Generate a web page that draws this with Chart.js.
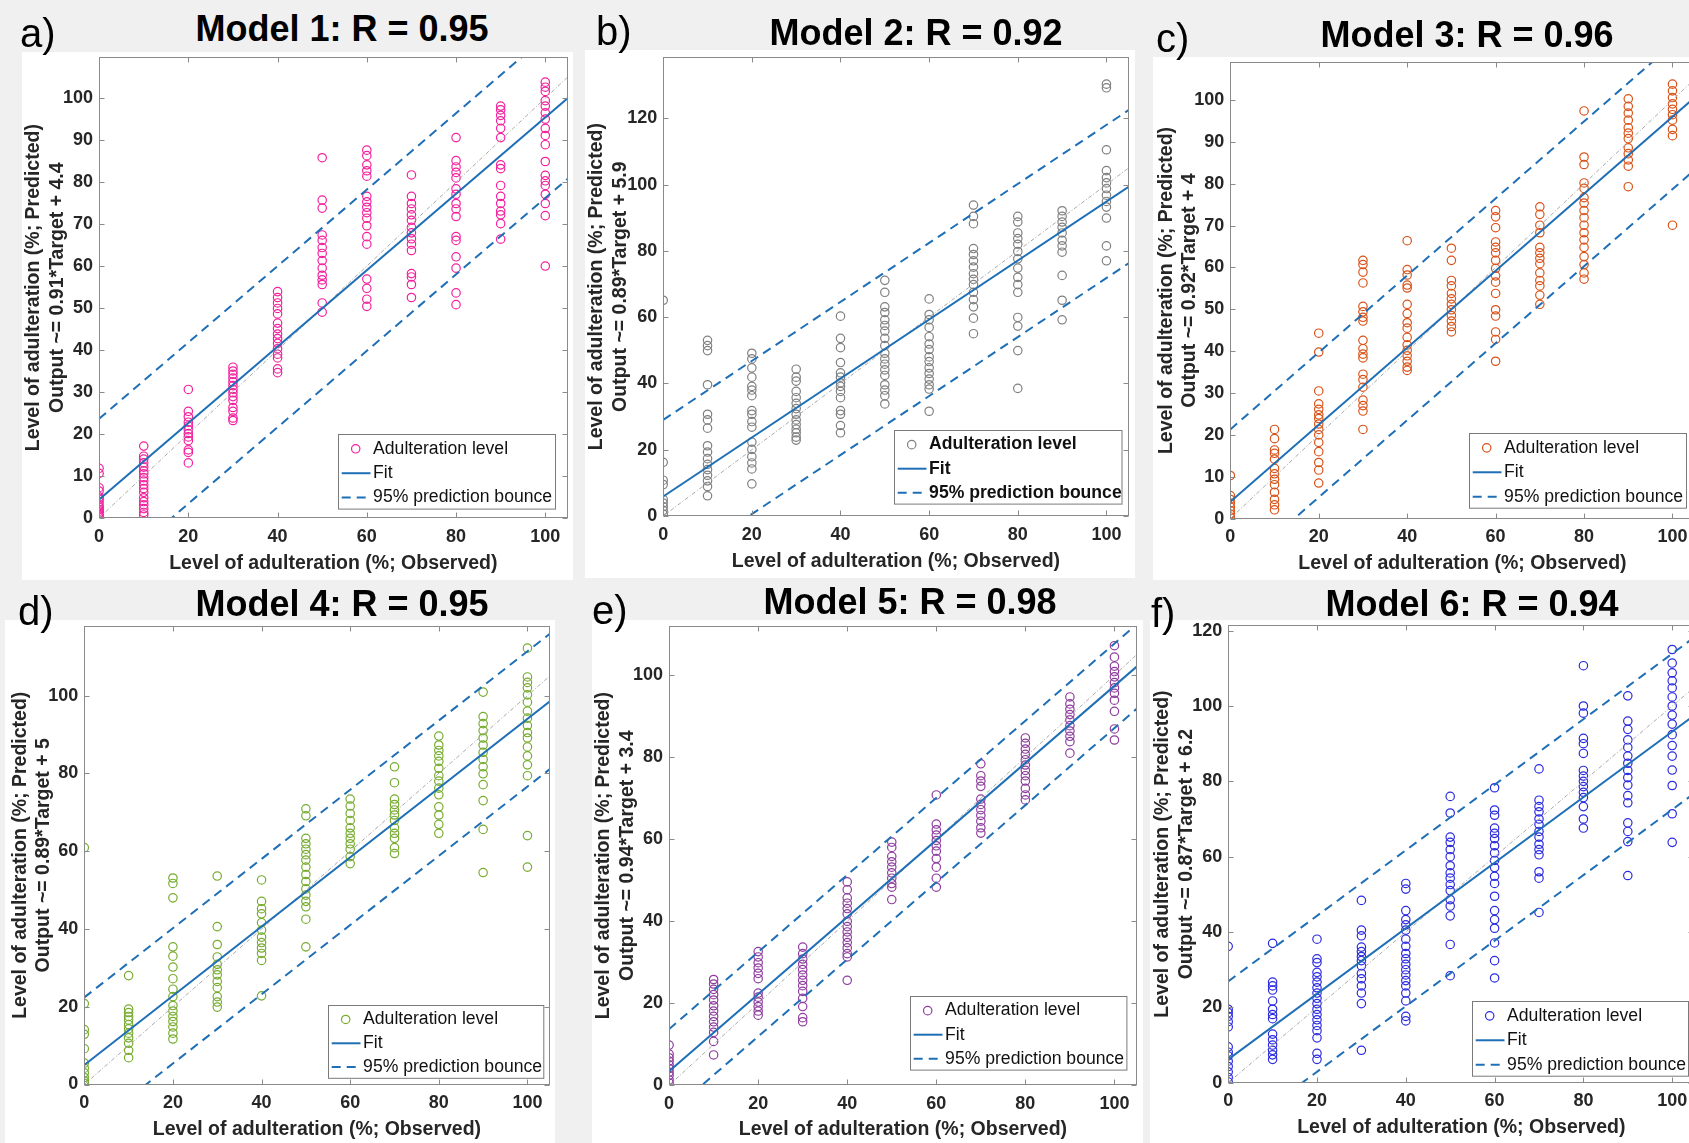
<!DOCTYPE html>
<html><head><meta charset="utf-8">
<script src="https://cdn.jsdelivr.net/npm/chart.js@4.4.1/dist/chart.umd.min.js"></script>
<style>
html,body{margin:0;padding:0;width:1689px;height:1143px;overflow:hidden;background:#f0f0f0;font-family:"Liberation Sans",Arial,sans-serif}
.panel{position:absolute;background:#fff}
.panel canvas{display:block}
.title{position:absolute;font-weight:bold;font-size:36px;line-height:1;white-space:nowrap;text-align:center;width:600px;color:#000;margin-top:-1px}
.tag{position:absolute;font-size:40px;line-height:1;color:#000;white-space:nowrap}
</style></head><body>
<script>
// ---------- data ----------
const xLevels = [0,10,20,30,40,50,60,70,80,90,100];
const xTickValues = [0,20,40,60,80,100];
const panelTags = ['a)','b)','c)','d)','e)','f)'];
const modelTitles = ['Model 1: R = 0.95','Model 2: R = 0.92','Model 3: R = 0.96','Model 4: R = 0.95','Model 5: R = 0.98','Model 6: R = 0.94'];
const fitSlopes = [0.91,0.89,0.92,0.89,0.94,0.87];
const fitIntercepts = [4.4,5.9,4,5,3.4,6.2];
const boundHalfWidths = [19.2,23.1,17.3,17.4,10.3,20.7];
const yTickSteps = [10,20,10,20,20,20];
const yAxisMax = [109.7,138.4,109.0,117.9,112.0,121.4];
const xAxisMax = 105;
const seriesLabel = 'Adulteration level';
const fitLabel = 'Fit';
const boundLabel = '95% prediction bounce';
const xTitle = 'Level of adulteration (%; Observed)';
const yTitleLine1 = 'Level of adulteration (%; Predicted)';

const model1Output = [
 [11.8,10.6,7.2,6.4,5.0,4.5,3.8,3.0,2.5,2.0,1.6,1.2,0.8,0.4],
 [17.1,14.7,14.0,13.1,12.1,11.2,10.5,9.6,8.8,7.9,7.0,6.1,4.8,3.9,3.1,2.2,1.3,0.7],
 [30.6,25.4,24.1,22.8,21.9,21.0,20.1,19.3,18.4,16.2,15.6,13.1],
 [35.9,35.0,34.2,33.3,32.4,31.5,30.6,29.8,28.9,28.0,26.3,25.4,23.8,23.2],
 [53.9,52.5,51.2,49.9,48.6,46.4,45.1,43.8,42.7,41.6,40.3,39.0,38.1,35.5,34.6],
 [85.8,75.7,73.8,67.4,66.1,64.4,63.0,61.3,59.5,57.8,56.7,55.6,51.2,49.0],
 [87.6,86.3,84.1,82.7,81.4,76.6,75.3,74.0,72.7,71.4,69.6,67.0,65.2,56.9,54.7,52.1,50.4],
 [81.7,76.6,74.9,73.6,72.2,70.9,69.2,67.9,66.5,65.2,63.7,58.2,57.4,55.6,52.5],
 [90.6,85.1,83.6,82.3,81.0,78.4,77.1,74.9,73.6,71.8,67.0,66.1,62.2,59.5,53.6,50.8],
 [98.1,97.2,95.9,94.6,92.8,90.6,84.1,83.2,79.2,76.6,74.9,73.1,72.2,70.1,66.4],
 [103.8,102.6,101.6,99.4,98.1,96.5,95.0,92.8,91.1,88.9,84.9,81.6,80.3,79.2,77.1,74.9,72.0,60.0]
];
const model2Output = [
 [65.1,16.2,10.8,9.5,5.0,3.9,2.8,1.7,0.6],
 [53.0,51.4,49.9,39.6,30.7,29.0,26.5,21.2,19.3,17.3,15.6,14.0,12.3,10.6,8.9,6.1],
 [49.1,47.4,44.7,41.9,39.1,38.0,36.3,31.8,30.7,28.5,26.8,22.3,20.1,17.9,16.0,14.2,9.7],
 [44.3,41.9,40.7,37.6,35.7,34.0,32.4,30.7,29.0,27.6,26.2,25.1,23.8,22.9],
 [60.3,53.6,50.8,46.3,43.2,41.9,40.2,39.1,37.6,35.7,31.8,30.7,27.3,25.1],
 [71.1,67.5,63.1,61.4,59.2,57.5,55.8,53.6,51.4,49.1,47.4,45.8,44.1,42.4,39.6,38.0,36.3,33.8],
 [65.5,60.8,59.2,56.9,54.1,51.9,50.2,48.0,46.6,44.7,43.0,41.3,39.6,38.3,31.6],
 [93.8,90.4,88.2,80.7,78.9,77.0,75.1,73.1,71.4,69.8,67.5,65.3,63.1,59.7,55.0],
 [90.4,88.7,85.4,83.7,82.0,79.8,77.6,74.8,72.0,69.8,67.5,59.9,57.3,49.9,38.5],
 [92.1,90.4,88.7,87.1,85.4,83.2,81.5,79.6,72.6,65.1,59.2],
 [130.3,129.2,110.5,104.2,102.1,100.5,98.8,96.8,94.9,93.2,89.9,81.5,77.0]
];
const model3Output = [
 [10.3,5.5,4.6,3.7,2.8,1.9,1.1,0.4],
 [21.3,19.1,16.4,15.6,14.2,12.0,10.7,9.4,8.1,6.3,4.6,3.3,2.1],
 [44.3,39.8,30.5,27.4,26.1,24.8,23.9,22.6,21.3,20.0,18.2,16.0,13.4,11.6,8.5],
 [61.7,60.7,58.9,56.3,50.7,49.4,48.1,47.2,42.6,40.6,39.3,38.4,34.5,33.2,31.4,28.3,27.0,25.7,21.3],
 [66.4,59.5,58.2,55.8,55.1,51.2,49.0,46.8,45.5,43.3,41.5,40.2,38.9,37.6,36.2,35.4],
 [64.6,61.7,56.9,55.6,53.8,52.5,51.2,49.9,48.5,47.2,45.9,44.6],
 [73.6,72.1,69.5,66.1,64.8,63.5,61.7,59.8,58.0,56.5,53.8,49.9,48.4,44.6,42.8,37.6],
 [74.5,72.7,70.1,68.3,64.8,63.5,62.2,60.9,58.7,56.9,55.6,53.4,51.2],
 [97.4,86.4,84.6,80.2,78.9,76.7,75.4,73.6,71.9,70.1,68.3,66.6,64.8,62.6,60.7,58.7,57.2],
 [100.3,98.5,96.9,95.2,93.4,92.1,90.8,88.6,87.2,85.7,84.2,79.3],
 [103.8,102.2,100.6,99.1,97.8,96.5,95.2,93.0,91.5,70.1]
];
const model4Output = [
 [60.9,20.8,14.1,12.9,9.2,5.5,4.2,3.0,1.8,0.9,0.3],
 [28.0,19.4,18.5,17.5,16.6,15.4,14.3,13.2,12.0,10.6,8.8,6.9],
 [53.1,51.7,48.0,35.4,33.0,30.2,27.2,24.5,22.6,20.3,18.9,17.5,16.2,14.8,13.2,11.7],
 [53.6,40.6,36.0,32.8,30.9,29.5,28.2,26.5,24.9,22.6,21.2,19.9],
 [52.6,47.1,45.2,43.9,41.6,39.7,37.9,36.5,35.1,33.7,31.9,22.8],
 [70.9,69.1,63.3,61.9,60.5,59.1,57.7,55.9,54.0,52.2,50.3,48.7,47.1,45.7,42.5,35.4],
 [73.4,71.6,69.7,67.9,66.0,64.6,63.3,61.9,60.5,58.6,56.8],
 [81.7,77.6,73.4,72.0,70.6,69.3,67.9,66.0,64.6,63.3,60.9,59.4],
 [89.6,87.3,85.9,84.5,83.1,81.3,79.4,78.0,76.2,74.5,71.4,69.3,66.9,64.6],
 [100.9,94.6,92.8,91.0,89.1,87.3,85.4,83.6,81.7,79.9,77.1,73.0,65.6,54.5],
 [112.2,104.8,103.4,102.0,100.2,98.3,96.0,94.2,92.3,90.5,89.1,86.8,84.5,82.2,79.4,64.0,55.9]
];
const model5Output = [
 [9.8,7.6,6.7,5.9,5.0,4.1,3.2,2.4,1.3,0.6],
 [25.8,24.7,23.4,22.1,20.8,19.4,18.1,16.8,15.5,14.2,12.9,10.7,7.4],
 [32.6,31.3,29.9,28.6,27.3,26.0,22.5,21.5,20.3,19.2,18.1,17.1],
 [33.7,32.1,30.8,29.5,28.2,26.9,25.6,24.3,22.9,21.2,19.2,16.5,15.5],
 [49.6,47.7,45.7,44.4,43.1,41.8,40.0,38.7,37.4,36.1,34.8,33.5,32.1,31.3,25.6],
 [59.3,58.0,55.8,54.5,53.2,51.8,50.5,49.2,48.3,45.3],
 [70.8,63.7,62.3,61.0,59.7,58.4,57.1,55.3,53.2,50.5,48.3],
 [78.4,75.5,74.2,72.9,69.8,68.5,67.2,65.8,64.4,62.8,61.5],
 [84.7,83.4,82.0,80.7,79.4,78.1,76.8,75.5,74.2,72.4,70.8,69.6],
 [94.7,93.0,91.7,90.4,89.1,87.7,86.4,85.1,83.8,81.0],
 [107.2,104.4,102.2,100.9,99.6,98.2,96.9,95.6,93.9,91.2,86.9,84.2]
];
const model6Output = [
 [36.2,19.5,18.6,17.6,16.2,14.8,9.5,8.1,7.1,5.7,4.3,2.9,1.4,0.2],
 [37.0,26.7,25.7,24.6,21.7,19.5,18.1,17.0,12.9,11.4,10.0,8.6,7.4,6.2],
 [38.1,32.9,31.9,29.3,28.1,26.7,25.2,23.8,22.4,21.0,19.5,18.1,16.7,15.2,13.8,11.9,7.8,6.2],
 [48.4,40.5,39.0,36.0,34.8,33.5,32.4,31.0,29.0,27.6,25.7,23.8,21.0,8.6],
 [52.9,51.4,45.7,43.3,41.9,40.5,38.1,36.2,34.3,32.9,31.4,30.0,28.6,27.1,25.7,23.8,21.7,17.6,16.4],
 [76.0,71.6,65.2,63.8,61.9,60.0,57.6,55.7,54.3,52.6,51.0,48.6,46.9,44.3,36.7,28.4],
 [78.3,72.4,71.0,67.6,66.2,64.8,62.9,61.0,59.0,57.1,54.8,52.9,49.5,45.7,43.3,41.0,37.1,32.4,27.8],
 [83.3,75.0,73.3,71.9,70.0,68.6,66.7,65.2,63.3,61.9,60.5,56.0,54.3,45.2],
 [110.7,100.0,98.1,91.4,90.0,87.4,82.9,81.4,80.0,78.6,77.1,75.7,73.3,70.0,67.6],
 [102.7,96.0,93.8,91.0,89.0,86.7,84.8,82.9,81.0,79.0,76.2,74.3,69.0,66.7,64.0,55.0],
 [115.0,111.4,108.8,106.7,104.8,102.4,100.0,97.6,95.2,92.4,89.5,86.7,83.0,78.9,71.4,63.8]
];
const modelOutputs = [model1Output,model2Output,model3Output,model4Output,model5Output,model6Output];

// ---------- styles / layout ----------
const markerColors = ['#f2219e','#808080','#d95319','#77ac30','#8e3d9e','#2b2be0'];
const fitColor = '#1f6fb6';
const frameColor = '#8a8a8a';
const layout = [
 {l:22,  t:52,  w:551, h:528, yW:77.1, padT:2.7, padR:4.5, xH:62.1, ytPad:0,   xtPad:4.1, tx:342,    ty:11.8,  gx:20,   gy:13,  lg:{r:12.5,b:9.4, w:217,  h:74.6, bold:false}},
 {l:585, t:50,  w:550, h:528, yW:78.2, padT:7.3, padR:6.4, xH:62,   ytPad:0,   xtPad:4.6, tx:916,    ty:15.5,  gx:596,  gy:11,  lg:{r:7.4, b:12.2,w:227.5,h:73.6, bold:true}},
 {l:1153,t:57,  w:547, h:523, yW:77.3, padT:3.3, padR:3.9, xH:61.4, ytPad:1.4, xtPad:4.1, tx:1467,   ty:17.7,  gx:1156, gy:18,  lg:{r:8.2, b:11.1,w:217,  h:74.7, bold:false}},
 {l:5,   t:620, w:550, h:523, yW:79.3, padT:6,   padR:4.6, xH:58.5, ytPad:3.4, xtPad:1.7, tx:342,    ty:587.4, gx:18,   gy:591, lg:{r:6.6, b:7.2, w:215.3,h:72.8, bold:false}},
 {l:592, t:620, w:551, h:523, yW:77.1, padT:6,   padR:6.3, xH:57.7, ytPad:0,   xtPad:1.7, tx:910,    ty:585.2, gx:592,  gy:590, lg:{r:10.4,b:16.2,w:216.4,h:73.6, bold:false}},
 {l:1150,t:620, w:550, h:523, yW:78.2, padT:4.9, padR:5.6, xH:60.3, ytPad:0.9, xtPad:3.5, tx:1472,   ty:587,   gx:1151, gy:593, lg:{r:6.5, b:7.1, w:216,  h:74.7, bold:false}}
];

const frameAndLegend = {
  id: 'frameAndLegend',
  afterDraw(chart, args, opts) {
    const {ctx, chartArea: a} = chart;
    const xs = chart.scales.x, ys = chart.scales.y;
    ctx.save();
    ctx.strokeStyle = frameColor;
    ctx.lineWidth = 1;
    ctx.setLineDash([]);
    const L = Math.round(a.left)+0.5, T = Math.round(a.top)+0.5, R = Math.round(a.right)-0.5, B = Math.round(a.bottom)-0.5;
    ctx.strokeRect(L, T, R-L, B-T);
    const tl = 5;
    ctx.beginPath();
    xs.ticks.forEach(t => {
      const px = Math.round(xs.getPixelForValue(t.value))+0.5;
      ctx.moveTo(px, B); ctx.lineTo(px, B-tl);
      ctx.moveTo(px, T); ctx.lineTo(px, T+tl);
    });
    ys.ticks.forEach(t => {
      const py = Math.round(ys.getPixelForValue(t.value))+0.5;
      ctx.moveTo(L, py); ctx.lineTo(L+tl, py);
      ctx.moveTo(R, py); ctx.lineTo(R-tl, py);
    });
    ctx.stroke();
    // legend box
    const lg = opts.box;
    const bx = Math.round(a.right - lg.r - lg.w)+0.5, by = Math.round(a.bottom - lg.b - lg.h)+0.5;
    ctx.fillStyle = '#fff';
    ctx.fillRect(bx, by, lg.w, lg.h);
    ctx.strokeStyle = '#7a7a7a';
    ctx.strokeRect(bx, by, lg.w, lg.h);
    const entries = chart.data.datasets.filter(d => d.inLegend);
    ctx.font = (lg.bold ? 'bold ' : '') + '17.6px "Liberation Sans", Arial, sans-serif';
    ctx.textBaseline = 'middle';
    ctx.textAlign = 'left';
    entries.forEach((d, k) => {
      const ry = by + lg.h*0.192 + k*lg.h*0.327;
      if (d.type === 'scatter') {
        ctx.setLineDash([]);
        ctx.strokeStyle = d.borderColor;
        ctx.lineWidth = d.borderWidth;
        ctx.beginPath();
        ctx.arc(bx + 17.2, ry, d.pointRadius, 0, Math.PI*2);
        ctx.stroke();
      } else {
        ctx.setLineDash(d.borderDash || []);
        ctx.strokeStyle = d.borderColor;
        ctx.lineWidth = d.borderWidth;
        ctx.beginPath();
        ctx.moveTo(bx + 3.2, ry); ctx.lineTo(bx + 32, ry);
        ctx.stroke();
      }
      ctx.fillStyle = '#111';
      ctx.fillText(d.label, bx + 34.6, ry);
    });
    ctx.restore();
  }
};

function makePanel(i) {
  const g = layout[i];
  const div = document.createElement('div');
  div.className = 'panel';
  div.style.left = g.l + 'px'; div.style.top = g.t + 'px';
  div.style.width = g.w + 'px'; div.style.height = g.h + 'px';
  const cv = document.createElement('canvas');
  cv.width = g.w; cv.height = g.h;
  cv.style.width = g.w + 'px'; cv.style.height = g.h + 'px';
  div.appendChild(cv);
  document.body.appendChild(div);

  const title = document.createElement('div');
  title.className = 'title';
  title.textContent = modelTitles[i];
  title.style.left = (g.tx - 300) + 'px'; title.style.top = g.ty + 'px';
  document.body.appendChild(title);
  const tag = document.createElement('div');
  tag.className = 'tag';
  tag.textContent = panelTags[i];
  tag.style.left = g.gx + 'px'; tag.style.top = g.gy + 'px';
  document.body.appendChild(tag);

  const pts = [];
  modelOutputs[i].forEach((col, k) => col.forEach(v => pts.push({x: xLevels[k], y: v})));
  const m = fitSlopes[i], b = fitIntercepts[i], hw = boundHalfWidths[i];
  const line = (off) => [{x: 0, y: b + off}, {x: xAxisMax, y: b + off + m * xAxisMax}];
  const eqText = 'Output ~= ' + m + '*Target + ' + b;

  new Chart(cv, {
    data: {
      datasets: [
        {type: 'scatter', label: seriesLabel, inLegend: true, data: pts, borderColor: markerColors[i],
         backgroundColor: 'rgba(0,0,0,0)', pointRadius: 4.2, pointHoverRadius: 4.2, borderWidth: 1.2, order: 10},
        {type: 'line', label: fitLabel, inLegend: true, data: line(0), borderColor: fitColor, borderWidth: 2,
         pointRadius: 0, fill: false, order: 1},
        {type: 'line', label: boundLabel, inLegend: true, data: line(hw), borderColor: fitColor, borderWidth: 2,
         borderDash: [9, 6], pointRadius: 0, fill: false, order: 1},
        {type: 'line', label: 'lower bound', inLegend: false, data: line(-hw), borderColor: fitColor, borderWidth: 2,
         borderDash: [9, 6], pointRadius: 0, fill: false, order: 1},
        {type: 'line', label: 'Y = T', inLegend: false, data: [{x: 0, y: 0}, {x: xAxisMax, y: xAxisMax}],
         borderColor: '#a9a9a9', borderWidth: 1, borderDash: [4, 2, 1, 2], pointRadius: 0, fill: false, order: 2}
      ]
    },
    options: {
      responsive: false,
      animation: false,
      events: [],
      layout: {padding: {top: g.padT, right: g.padR, left: 0, bottom: 0}},
      plugins: {legend: {display: false}, tooltip: {enabled: false}, frameAndLegend: {box: g.lg}},
      scales: {
        x: {
          type: 'linear', position: 'bottom', min: 0, max: xAxisMax,
          afterBuildTicks: s => { s.ticks = xTickValues.map(v => ({value: v})); },
          ticks: {stepSize: 20, includeBounds: false, padding: 8, maxRotation: 0, autoSkip: false,
                  color: '#262626', font: {size: 18, weight: 'bold', family: '"Liberation Sans", Arial, sans-serif'}},
          grid: {display: false, drawTicks: false},
          border: {display: false},
          title: {display: true, text: xTitle, color: '#262626',
                  font: {size: 19.5, weight: 'bold', family: '"Liberation Sans", Arial, sans-serif', lineHeight: 1.22},
                  padding: {top: 0, bottom: g.xtPad}},
          afterFit: s => { s.height = g.xH; s.paddingLeft = 0; s.paddingRight = 0; }
        },
        y: {
          type: 'linear', position: 'left', min: 0, max: yAxisMax[i],
          ticks: {stepSize: yTickSteps[i], includeBounds: false, padding: 6, autoSkip: false,
                  color: '#262626', font: {size: 18, weight: 'bold', family: '"Liberation Sans", Arial, sans-serif'}},
          grid: {display: false, drawTicks: false},
          border: {display: false},
          title: {display: true, text: [yTitleLine1, eqText], color: '#262626',
                  font: {size: 19.5, weight: 'bold', family: '"Liberation Sans", Arial, sans-serif', lineHeight: 1.22},
                  padding: {top: g.ytPad, bottom: 0}},
          afterFit: s => { s.width = g.yW; s.paddingTop = 0; s.paddingBottom = 0; }
        }
      }
    },
    plugins: [frameAndLegend]
  });
}
for (let i = 0; i < 6; i++) makePanel(i);
</script>
</body></html>
